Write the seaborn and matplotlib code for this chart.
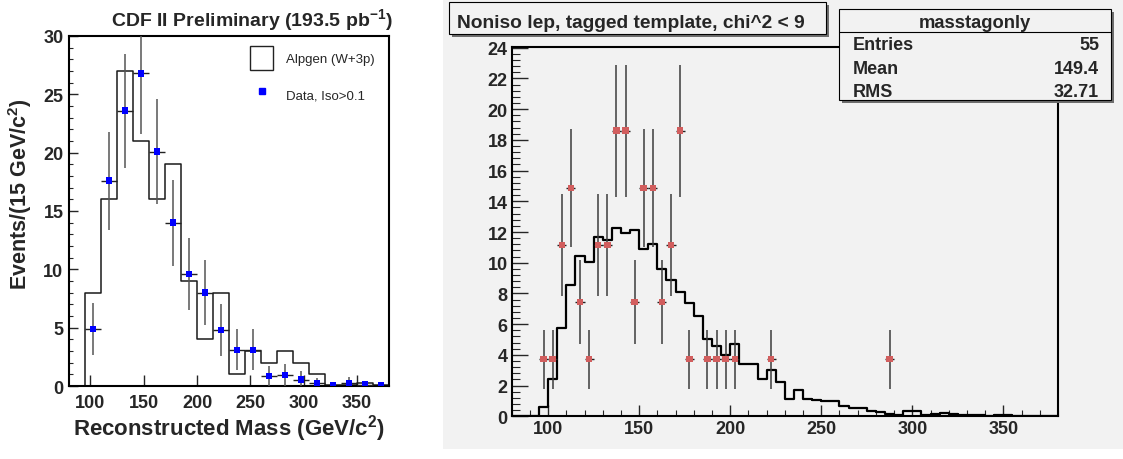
import numpy as np
import pandas as pd
import matplotlib
matplotlib.use("Agg")
import matplotlib.pyplot as plt
import seaborn as sns
from matplotlib.patches import Rectangle, Patch
from matplotlib.lines import Line2D
from matplotlib.ticker import MultipleLocator

# ---------------- data ----------------
# Left panel: Alpgen (W+3p) MC template, 15 GeV bins (low edges)
mc_left_lo = [80, 95, 110, 125, 140, 155, 170, 185, 200, 215, 230, 245, 260,
              275, 290, 305, 320, 335, 350, 365]
mc_left_val = [0, 8, 16, 27, 21, 16, 19, 9, 4, 8, 1, 3, 2, 3, 2, 1,
               0.1, 0.1, 0.25, 0.1]
# Left panel: data, Iso>0.1
data_left_x = [102.5, 117.5, 132.5, 147.5, 162.5, 177.5, 192.5, 207.5, 222.5,
               237.5, 252.5, 267.5, 282.5, 297.5, 312.5, 327.5, 342.5, 357.5, 372.5]
data_left_y = [4.9, 17.6, 23.6, 26.8, 20.1, 14.0, 9.6, 8.0, 4.8, 3.1, 3.1,
               0.85, 0.95, 0.55, 0.23, 0.03, 0.26, 0.11, 0.03]
data_left_err = [2.2, 4.2, 4.9, 5.2, 4.5, 3.7, 3.1, 2.8, 2.2, 1.75, 1.75,
                 0.9, 0.97, 0.74, 0.48, 0.17, 0.5, 0.33, 0.17]

# Right panel: template histogram, 5 GeV bins from 80
mc_right_lo = list(range(80, 380, 5))
mc_right_val = [0, 0, 0,
                0.63, 2.44, 5.76, 8.55, 10.45, 10.08, 11.67, 11.45, 12.26, 11.93,
                12.1, 10.9, 11.23, 9.57, 8.88, 8.07, 7.41, 6.54, 5.01, 4.58,
                3.97, 4.73, 3.38, 3.40, 2.40, 3.03, 2.22, 1.13, 1.74, 1.13,
                1.07, 1.0, 1.0, 0.69, 0.52, 0.52, 0.37, 0.26, 0.15, 0.07,
                0.33, 0.33, 0.07, 0.13, 0.2, 0.13, 0.07, 0.07, 0.07, 0.03,
                0.1, 0.1, 0, 0, 0, 0, 0]
# Right panel: noniso data points
data_right_x = [97.5, 102.5, 107.5, 112.5, 117.5, 122.5, 127.5, 132.5, 137.5,
                142.5, 147.5, 152.5, 157.5, 162.5, 167.5, 172.5, 177.5, 187.5,
                192.5, 197.5, 202.5, 222.5, 287.5]
data_right_y = [3.72, 3.72, 11.16, 14.88, 7.44, 3.72, 11.16, 11.16, 18.6,
                18.6, 7.44, 14.88, 14.88, 7.44, 11.16, 18.6, 3.72, 3.72,
                3.72, 3.72, 3.72, 3.72, 3.72]
data_right_err = [1.93, 1.93, 3.34, 3.86, 2.73, 1.93, 3.34, 3.34, 4.31,
                  4.31, 2.73, 3.86, 3.86, 2.73, 3.34, 4.31, 1.93, 1.93,
                  1.93, 1.93, 1.93, 1.93, 1.93]

left_xticks = [100, 150, 200, 250, 300, 350]
right_xticks = [100, 150, 200, 250, 300, 350]

stats_name = "masstagonly"
stats_rows = [("Entries", "55"), ("Mean", "149.4"), ("RMS", "32.71")]

# ---------------- style ----------------
sns.set_style("ticks")
plt.rcParams["font.family"] = ["Liberation Sans", "DejaVu Sans"]
plt.rcParams["font.weight"] = "bold"
plt.rcParams["mathtext.fontset"] = "custom"
plt.rcParams["mathtext.rm"] = "Liberation Sans:bold"
plt.rcParams["mathtext.bf"] = "Liberation Sans:bold"
plt.rcParams["mathtext.it"] = "Liberation Sans:bold"

W, H = 1123, 460
fig = plt.figure(figsize=(W / 100, H / 100), dpi=100)
fig.patch.set_facecolor("white")

def fx(x):
    return x / W

def fy(y):
    return 1 - y / H

def px_axes(l, t, r, b):
    return fig.add_axes([l / W, 1 - b / H, (r - l) / W, (b - t) / H])

GRAY = "#f2f2f2"
# gray canvas of right pad
fig.add_artist(Rectangle((fx(443), fy(450)), 1 - fx(443), 450 / H,
                         transform=fig.transFigure, facecolor=GRAY,
                         edgecolor="none", zorder=0))

# ---------------- left panel ----------------
ax1 = px_axes(69, 37, 389, 387)
ax1.set_facecolor("white")
mcl = pd.DataFrame({"x": np.array(mc_left_lo) + 7.5, "w": mc_left_val})
sns.histplot(data=mcl, x="x", weights="w", bins=list(mc_left_lo) + [380],
             element="step", fill=False, color="#1a1a1a", linewidth=1.1,
             ax=ax1, zorder=2)
ax1.errorbar(data_left_x, data_left_y, yerr=data_left_err, fmt="none",
             ecolor="#555555", elinewidth=1.1, capsize=0, zorder=3)
ax1.errorbar(data_left_x, data_left_y, xerr=7.5, fmt="none",
             ecolor="#222222", elinewidth=1.0, capsize=0, zorder=3)
sns.scatterplot(x=data_left_x, y=data_left_y, marker="s", s=22, color="#0000ff",
                edgecolor="none", linewidth=0, ax=ax1, zorder=4)
ax1.set_xlim(80, 380)
ax1.set_ylim(0, 30)
ax1.set_xticks(left_xticks)
ax1.set_yticks(range(0, 31, 5))
ax1.yaxis.set_minor_locator(MultipleLocator(1))
ax1.tick_params(axis="x", which="major", direction="in", length=7.7, width=1.0,
                labelsize=13, pad=6, top=False)
ax1.tick_params(axis="y", which="major", direction="in", length=6.5, width=1.0,
                labelsize=13, pad=4, right=False)
ax1.tick_params(axis="y", which="minor", direction="in", length=3.2, width=0.8,
                right=False)
for s in ax1.spines.values():
    s.set_linewidth(1.5)
    s.set_color("black")
ax1.set_xlabel("Reconstructed Mass (GeV/c$^{2}$)", fontsize=16, fontweight="bold")
ax1.set_ylabel("Events/(15 GeV/c$^{2}$)", fontsize=15.5, fontweight="bold")
ax1.xaxis.set_label_coords(0.50, -0.075)
ax1.yaxis.set_label_coords(-0.11, 0.55)
fig.text(fx(252), fy(26), "CDF II Preliminary (193.5 pb$^{-1}$)", ha="center",
         va="baseline", fontsize=14, fontweight="bold")

handles = [Patch(facecolor="white", edgecolor="#222222", linewidth=1.0),
           Line2D([], [], marker="s", color="#0000ff", linestyle="none",
                  markersize=4.5)]
leg = ax1.legend(handles, ["Alpgen (W+3p)", "Data, Iso>0.1"], loc="upper left",
                 bbox_to_anchor=((250 - 69) / 320, (387 - 47) / 350),
                 frameon=False, borderpad=0, borderaxespad=0,
                 handlelength=1.75, handleheight=2.4, handletextpad=1.0,
                 labelspacing=1.0, prop={"size": 9.5, "weight": "normal"})

# ---------------- right panel ----------------
ax2 = px_axes(511.7, 48, 1058, 417.3)
ax2.set_facecolor(GRAY)
mcr = pd.DataFrame({"x": np.array(mc_right_lo) + 2.5, "w": mc_right_val})
sns.histplot(data=mcr, x="x", weights="w", bins=list(mc_right_lo) + [380],
             element="step", fill=False, color="black", linewidth=1.6,
             ax=ax2, zorder=2)
ax2.errorbar(data_right_x, data_right_y, yerr=data_right_err, fmt="none",
             ecolor="#3c3c3c", elinewidth=1.1, capsize=0, zorder=3)
ax2.errorbar(data_right_x, data_right_y, xerr=2.5, fmt="none",
             ecolor="#222222", elinewidth=1.0, capsize=0, zorder=3)
sns.scatterplot(x=data_right_x, y=data_right_y, marker="s", s=22,
                color="#d25e5e", edgecolor="none", linewidth=0, ax=ax2, zorder=4)
ax2.set_xlim(80, 380)
ax2.set_ylim(0, 24.05)
ax2.set_xticks(right_xticks)
ax2.xaxis.set_minor_locator(MultipleLocator(10))
ax2.set_yticks(range(0, 25, 2))
ax2.yaxis.set_minor_locator(MultipleLocator(0.4))
ax2.tick_params(axis="x", which="major", direction="in", length=7.7, width=1.0,
                labelsize=13, pad=3, top=False)
ax2.tick_params(axis="x", which="minor", direction="in", length=4, width=0.8,
                top=False)
ax2.tick_params(axis="y", which="major", direction="in", length=11.3, width=1.0,
                labelsize=13, pad=3, right=False)
ax2.tick_params(axis="y", which="minor", direction="in", length=5.8, width=0.8,
                right=False)
for s in ax2.spines.values():
    s.set_linewidth(1.5)
    s.set_color("black")
ax2.set_xlabel("")
ax2.set_ylabel("")

# title box (ROOT TPaveText with shadow)
def pave(l, t, r, b, z=10):
    fig.add_artist(Rectangle((fx(l + 3), fy(b + 3)), (r - l) / W, (b - t) / H,
                             transform=fig.transFigure, facecolor="#6e6e6e",
                             edgecolor="none", zorder=z))
    fig.add_artist(Rectangle((fx(l), fy(b)), (r - l) / W, (b - t) / H,
                             transform=fig.transFigure, facecolor=GRAY,
                             edgecolor="black", linewidth=0.8, zorder=z + 1))

pave(449, 3, 826, 35)
fig.text(fx(457), fy(28.5), "Noniso lep, tagged template, chi^2 < 9",
         ha="left", va="baseline", fontsize=13.8, fontweight="bold", zorder=20)

# stats box
pave(839, 10, 1111, 101)
fig.add_artist(Line2D([fx(839), fx(1111)], [fy(33), fy(33)],
                      transform=fig.transFigure, color="black", linewidth=0.8,
                      zorder=20))
fig.text(fx(975), fy(28), stats_name, ha="center", va="baseline",
         fontsize=13.2, fontweight="bold", zorder=20)
for i, (k, v) in enumerate(stats_rows):
    yb = [49.5, 74, 97][i]
    fig.text(fx(853), fy(yb), k, ha="left", va="baseline", fontsize=13,
             fontweight="bold", zorder=20)
    fig.text(fx(1099), fy(yb), v, ha="right", va="baseline", fontsize=13,
             fontweight="bold", zorder=20)

fig.savefig("out.png", dpi=100, facecolor="white")
